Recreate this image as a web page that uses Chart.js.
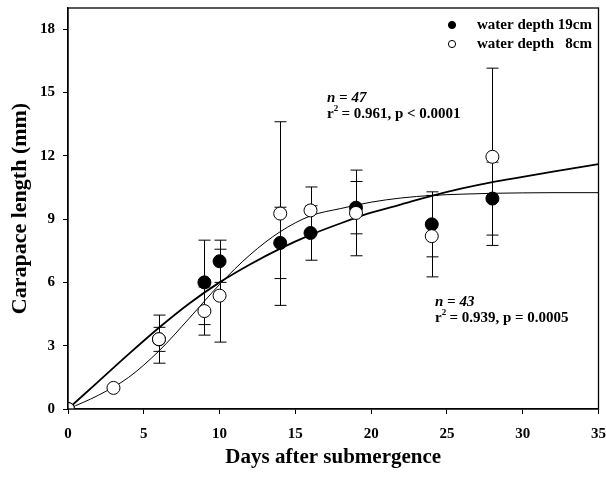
<!DOCTYPE html>
<html>
<head>
<meta charset="utf-8">
<script src="https://cdn.jsdelivr.net/npm/chart.js@4.4.0/dist/chart.umd.min.js"></script>
<style>
  html, body { margin: 0; padding: 0; background: #fff; }
  #wrap { width: 606px; height: 486px; }
</style>
</head>
<body>
<div id="wrap"><canvas id="chart" width="606" height="486"></canvas></div>
<script>
// données
const days19 = [0, 6, 9, 10, 14, 16, 19, 24, 28];
const len19 = [0, 3.3, 6.0, 7.0, 7.87, 8.34, 9.54, 8.75, 9.97];
const err19 = [0, 0.57, 2.0, 1.0, 1.69, 1.29, 1.24, 1.54, 1.73];

const days8 = [0, 3, 6, 9, 10, 14, 16, 19, 24, 28];
const len8 = [0, 1.0, 3.31, 4.64, 5.37, 9.26, 9.41, 9.29, 8.19, 11.95];
const err8 = [0, 0, 1.14, 1.14, 2.2, 4.35, 1.11, 2.03, 1.93, 4.2];

// courbes ajustées
const fitDays = [0, 2, 4, 6, 8, 10, 12, 14, 16, 18, 20, 22, 24, 26, 28, 30, 32, 35];
const fit19 = [0, 1.3, 2.6, 3.85, 5.0, 6.0, 6.85, 7.6, 8.25, 8.8, 9.3, 9.7, 10.1, 10.45, 10.75, 11.0, 11.25, 11.6];
const fit8 = [0, 0.65, 1.5, 2.75, 4.3, 5.9, 7.3, 8.4, 9.15, 9.5, 9.8, 10.0, 10.12, 10.18, 10.22, 10.24, 10.25, 10.25];

const xTicks = [0, 5, 10, 15, 20, 25, 30, 35];
const yTicks = [0, 3, 6, 9, 12, 15, 18];

const legendLabels = ['water depth 19cm', 'water depth   8cm'];

const FONT = "'Liberation Serif', 'Times New Roman', serif";

const toPts = (xs, ys) => xs.map((x, i) => ({ x: x, y: ys[i] }));

// Barres d'erreur + cadre + légende + annotations
const extras = {
    id: 'extras',
    beforeDatasetsDraw(chart) {
        const { ctx, scales: { x, y } } = chart;
        ctx.save();
        ctx.strokeStyle = '#000';
        ctx.lineWidth = 1;
        const bars = [[days19, len19, err19], [days8, len8, err8]];
        bars.forEach(([xs, ys, es]) => {
            xs.forEach((d, i) => {
                if (!es[i]) return;
                const px = Math.round(x.getPixelForValue(d)) + 0.5;
                const top = y.getPixelForValue(ys[i] + es[i]);
                const bot = y.getPixelForValue(ys[i] - es[i]);
                ctx.beginPath();
                ctx.moveTo(px, top); ctx.lineTo(px, bot);
                ctx.moveTo(px - 6, top); ctx.lineTo(px + 6, top);
                ctx.moveTo(px - 6, bot); ctx.lineTo(px + 6, bot);
                ctx.stroke();
            });
        });
        ctx.restore();
    },
    afterDraw(chart) {
        const { ctx, chartArea: a } = chart;
        ctx.save();
        // cadre
        ctx.strokeStyle = '#000';
        ctx.lineWidth = 1.3;
        ctx.strokeRect(a.left, a.top, a.right - a.left, a.bottom - a.top);

        // légende
        ctx.textBaseline = 'middle';
        ctx.textAlign = 'left';
        const rows = [25, 44];
        rows.forEach((ry, i) => {
            ctx.beginPath();
            ctx.arc(452, ry, 3.6, 0, Math.PI * 2);
            ctx.fillStyle = i === 0 ? '#000' : '#fff';
            ctx.fill();
            ctx.lineWidth = 1;
            ctx.stroke();
            ctx.fillStyle = '#000';
            ctx.font = 'bold 15px ' + FONT;
            ctx.fillText(legendLabels[i], 477, ry);
        });

        // annotations
        const stats = (px, py, n, rest) => {
            ctx.font = 'italic bold 15px ' + FONT;
            ctx.fillText(n, px, py);
            ctx.font = 'bold 15px ' + FONT;
            ctx.fillText('r', px, py + 16);
            const w = ctx.measureText('r').width;
            ctx.font = 'bold 9px ' + FONT;
            ctx.fillText('2', px + w, py + 11);
            ctx.font = 'bold 15px ' + FONT;
            ctx.fillText(rest, px + w + 4, py + 16);
        };
        stats(327, 98, 'n = 47', ' = 0.961, p < 0.0001');
        stats(435, 302, 'n = 43', ' = 0.939, p = 0.0005');
        ctx.restore();
    }
};

// supprime le débord des libellés pour fixer la zone du graphique
const noOverhang = (s) => {
    s.paddingTop = 0; s.paddingBottom = 0;
    s.paddingLeft = 0; s.paddingRight = 0;
};

new Chart(document.getElementById('chart').getContext('2d'), {
    type: 'scatter',
    data: {
        datasets: [
            {
                label: legendLabels[1],
                data: toPts(days8, len8),
                backgroundColor: '#fff',
                borderColor: '#000',
                borderWidth: 1,
                pointRadius: 6.5,
                order: 0
            },
            {
                label: legendLabels[0],
                data: toPts(days19, len19),
                backgroundColor: '#000',
                borderColor: '#000',
                borderWidth: 1,
                pointRadius: 6.5,
                order: 1
            },
            {
                type: 'line',
                label: 'fit 19cm',
                data: toPts(fitDays, fit19),
                borderColor: '#000',
                borderWidth: 1.8,
                pointRadius: 0,
                fill: false,
                cubicInterpolationMode: 'monotone',
                order: 2
            },
            {
                type: 'line',
                label: 'fit 8cm',
                data: toPts(fitDays, fit8),
                borderColor: '#000',
                borderWidth: 1,
                pointRadius: 0,
                fill: false,
                cubicInterpolationMode: 'monotone',
                order: 3
            }
        ]
    },
    options: {
        responsive: false,
        animation: false,
        layout: { padding: { top: 8, right: 7, left: 0, bottom: 0 } },
        plugins: {
            legend: { display: false },
            tooltip: { enabled: false }
        },
        scales: {
            x: {
                type: 'linear',
                min: 0,
                max: 35,
                afterBuildTicks: (s) => { s.ticks = xTicks.map(v => ({ value: v })); },
                afterFit: (s) => { s.height = 77; noOverhang(s); },
                border: { display: true, color: '#000', width: 1.3 },
                grid: { drawOnChartArea: false, drawTicks: true, tickLength: 5, color: '#000' },
                ticks: {
                    color: '#000',
                    padding: 11,
                    maxRotation: 0,
                    font: { family: FONT, size: 15, weight: 'bold' }
                },
                title: {
                    display: true,
                    text: 'Days after submergence',
                    color: '#000',
                    padding: { top: 0, bottom: 16 },
                    font: { family: FONT, size: 21, weight: 'bold' }
                }
            },
            y: {
                type: 'linear',
                min: 0,
                max: 19,
                afterBuildTicks: (s) => { s.ticks = yTicks.map(v => ({ value: v })); },
                afterFit: (s) => { s.width = 68; noOverhang(s); },
                border: { display: true, color: '#000', width: 1.3 },
                grid: { drawOnChartArea: false, drawTicks: true, tickLength: 5, color: '#000' },
                ticks: {
                    color: '#000',
                    padding: 8,
                    font: { family: FONT, size: 15, weight: 'bold' }
                },
                title: {
                    display: true,
                    text: 'Carapace length (mm)',
                    color: '#000',
                    padding: { top: 7, bottom: 0 },
                    font: { family: FONT, size: 22, weight: 'bold' }
                }
            }
        }
    },
    plugins: [extras]
});
</script>
</body>
</html>
